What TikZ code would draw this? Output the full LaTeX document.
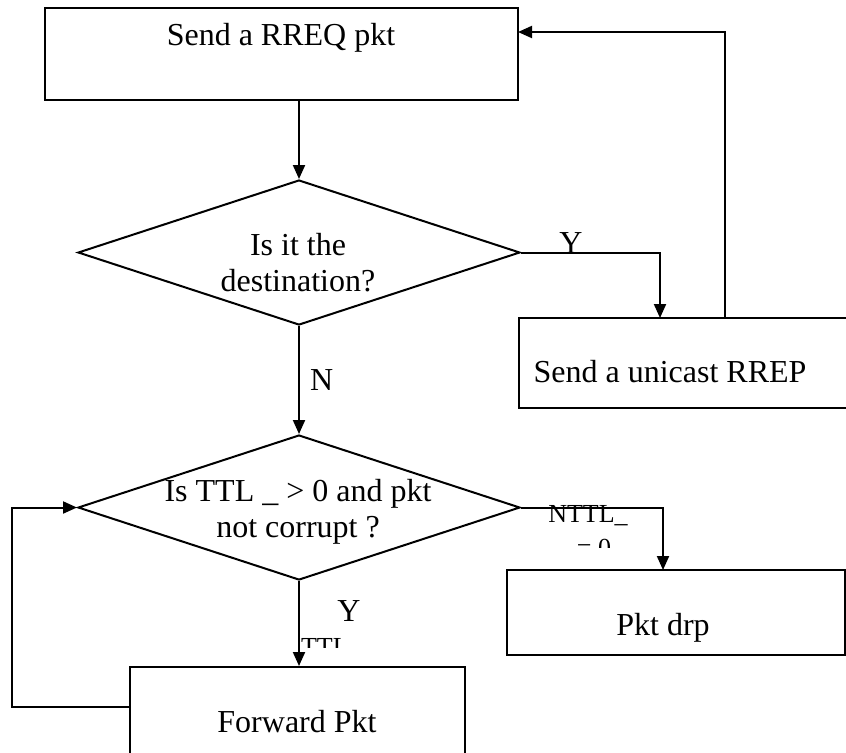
\documentclass[tikz,border=0pt]{standalone}
\usepackage{fontspec}
\setmainfont{Liberation Serif}
\usetikzlibrary{arrows.meta,shapes.geometric}

\begin{document}
\begin{tikzpicture}[->,>={Triangle[length=7pt,width=6pt]},line width=1pt,x=0.5pt,y=-0.5pt,
  box/.style={draw,rectangle,inner sep=0pt},
  dec/.style={draw,diamond,inner sep=0pt,minimum width=221pt,minimum height=72.5pt},
  txt/.style={font=\fontsize{16}{18}\selectfont,align=center,inner sep=0pt},
  small/.style={font=\fontsize{13}{17}\selectfont,inner sep=0pt}]

	\useasboundingbox (0,0) rectangle (846,752);

	% boxes and decisions
	\node[box,minimum width=236.5pt,minimum height=46pt](rreq) at (281.5,54){};
	\node[dec](dst) at (299,252.5){};
	\node[box,minimum width=175.5pt,minimum height=45pt](rrep) at (694.5,363){};
	\node[dec](ttl) at (299,507.5){};
	\node[box,minimum width=169pt,minimum height=42.5pt](drp) at (676,612.5){};
	\node[box,minimum width=167.5pt,minimum height=61.5pt](fwd) at (297.5,728.5){};

	% texts
	\node[txt](rreqtxt) at (281,38){Send a RREQ pkt};
	\node[txt](dsttxt) at (298,263){Is it the\\destination?};
	\node[txt](rreptxt) at (670,372){Send a unicast RREP};
	\node[txt](ttltxt) at (298,512){Is TTL \_ > 0 and pkt\\not corrupt ?};
	\node[txt](drptxt) at (663,628){Pkt drp};
	\node[txt](fwdtxt) at (297,722){Forward Pkt};

	% connector ends
	\coordinate (rrepin) at (660,318);
	\coordinate (rrepout) at (725,318);
	\coordinate (rreqin) at (518,32);
	\coordinate (drpin) at (663,570);
	\coordinate (fwdout) at (130,707);
	\coordinate (loopcorner) at (12,707);

	\draw (rreq.south -| dst.north) -- (dst.north);
	\draw (dst.east) -| (rrepin);
	\draw (rrepout) |- (rreqin);
	\draw (dst.south) -- node[txt,right=5pt](nlbl){N} (ttl.north);
	\draw (ttl.east) -| (drpin);
	\draw (ttl.south) -- (ttl.south |- fwd.north);
	\draw (fwdout) -- (loopcorner) |- (ttl.west);

	% labels
	\node[txt,anchor=base](ylbl) at (571,253){Y};
	\node[txt,anchor=base](ylbl2) at (349,621){Y};
	\node[small,anchor=base](nttl) at (588,522){NTTL\_};
	\begin{scope}
		\clip (540,530) rectangle (640,547);
		\node[small,anchor=base](nttlzero) at (594,556){= 0};
	\end{scope}
	\begin{scope}
		\clip (290,625) rectangle (380,647);
		\node[small,anchor=base west](ttllbl) at (300,655){TTL};
	\end{scope}
\end{tikzpicture}
\end{document}
